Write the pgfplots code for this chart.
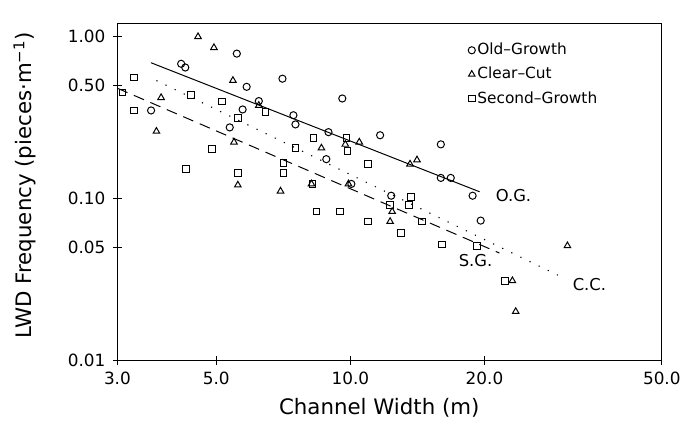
\documentclass[border=0pt]{standalone}
\usepackage{fontspec}
\setmainfont{DejaVu Sans}
\usepackage{pgfplots}
\pgfplotsset{compat=1.18}
\begin{document}
\fontsize{16.5}{19}\selectfont
\begin{tikzpicture}
\begin{axis}[
  scale only axis,
  width=547bp, height=338bp,
  xmode=log, ymode=log,
  xmin=3, xmax=50, ymin=0.01, ymax=1.2,
  xtick={3,5,10,20,50},
  xticklabels={3.0,5.0,10.0,20.0,50.0},
  ytick={0.01,0.05,0.1,0.5,1},
  yticklabels={0.01,0.05,0.10,0.50,1.00},
  minor xtick={}, minor ytick={},
  xminorticks=false, yminorticks=false,
  tick pos=left,
  tick align=center,
  major tick length=9bp,
  tick style={black, line width=0.8pt},
  axis line style={line width=0.8pt},
  xticklabel style={font=\fontsize{17}{19}\selectfont, yshift=-2bp},
  yticklabel style={font=\fontsize{17}{19}\selectfont, xshift=-2bp},
  xlabel={Channel Width (m)},
  ylabel={LWD Frequency (pieces·m\textsuperscript{−1})},
  xlabel style={font=\fontsize{21.5}{24}\selectfont, at={(axis description cs:0.481,-0.142)}, anchor=center},
  ylabel style={font=\fontsize{21.5}{24}\selectfont, at={(axis description cs:-0.170,0.52)}, anchor=center},
  legend style={draw=none, fill=none, at={(axis description cs:0.644,0.949)}, anchor=north west,
    font=\fontsize{15.5}{17}\selectfont, row sep=6bp, inner sep=0pt},
  legend cell align=left,
  clip=false,
]
% Old-Growth
\addplot[only marks, mark=o, mark size=3.6bp, line width=1pt] coordinates {
(3.57,0.350) (4.17,0.68) (4.26,0.645) (5.56,0.786) (5.85,0.49) (6.23,0.40)
(5.73,0.355) (5.36,0.275) (7.04,0.55) (7.45,0.327) (7.53,0.287) (8.93,0.257)
(9.59,0.415) (11.66,0.246) (15.96,0.216) (8.83,0.175) (10.05,0.123) (12.35,0.104)
(15.96,0.134) (16.80,0.134) (18.81,0.104) (19.61,0.073)
};
\addlegendentry{Old–Growth}
% Clear-Cut
\addplot[only marks, mark=triangle, mark size=3.8bp, line width=1pt] coordinates {
(4.55,1.00) (4.94,0.856) (5.45,0.536) (3.76,0.42) (3.67,0.26) (5.48,0.223)
(5.59,0.121) (6.23,0.376) (8.61,0.205) (9.74,0.216) (10.47,0.223) (13.61,0.163)
(14.11,0.173) (6.97,0.111) (8.18,0.123) (9.90,0.123) (12.41,0.083) (12.28,0.072)
(23.1,0.031) (23.5,0.020) (30.7,0.051)
};
\addlegendentry{Clear–Cut}
% Second-Growth
\addplot[only marks, mark=square, mark size=3.4bp, line width=1pt] coordinates {
(3.27,0.56) (3.08,0.452) (3.27,0.350) (4.39,0.434) (5.15,0.398) (5.59,0.313)
(6.45,0.341) (4.89,0.202) (4.28,0.152) (5.59,0.144) (7.53,0.205) (8.26,0.236)
(9.80,0.236) (9.85,0.196) (10.96,0.163) (7.08,0.165) (7.08,0.144) (8.22,0.123)
(8.39,0.083) (9.49,0.083) (10.96,0.072) (12.28,0.091) (13.68,0.102) (13.53,0.091)
(12.99,0.061) (14.47,0.072) (16.04,0.052) (19.21,0.051) (22.2,0.031)
};
\addlegendentry{Second–Growth}
% regression lines
\addplot[black, line width=1pt, forget plot] coordinates {(3.57,0.69) (19.5,0.11)};
\addplot[black, line width=1.1pt, dash pattern=on 1.2pt off 9pt, forget plot] coordinates {(3.67,0.536) (29.6,0.033)};
\addplot[black, line width=1pt, dash pattern=on 11bp off 7bp, forget plot] coordinates {(3.0,0.48) (21.6,0.046)};
\node[anchor=west, font=\fontsize{16.5}{19}\selectfont] at (axis cs:20.6,0.1036) {O.G.};
\node[anchor=center, font=\fontsize{16.5}{19}\selectfont] at (axis cs:19.1,0.0412) {S.G.};
\node[anchor=center, font=\fontsize{16.5}{19}\selectfont] at (axis cs:34.4,0.0294) {C.C.};
\end{axis}
\path (current axis.south west) ++(-118bp,-59bp) coordinate (bbA);
\path (current axis.north east) ++(21bp,24bp) coordinate (bbB);
\useasboundingbox (bbA) rectangle (bbB);
\end{tikzpicture}
\end{document}
